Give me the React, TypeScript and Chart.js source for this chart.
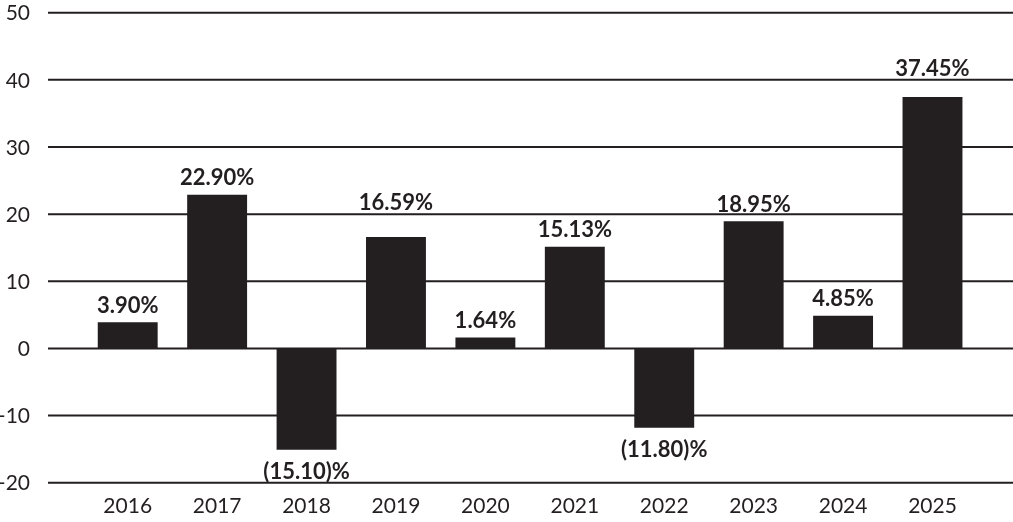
import React, { useEffect, useRef } from "react";
import { Chart, registerables } from "chart.js";

Chart.register(...registerables);

const years: string[] = ["2016", "2017", "2018", "2019", "2020", "2021", "2022", "2023", "2024", "2025"];
const returns: number[] = [3.9, 22.9, -15.1, 16.59, 1.64, 15.13, -11.8, 18.95, 4.85, 37.45];
const yTicks: number[] = [-20, -10, 0, 10, 20, 30, 40, 50];

const INK = "#231f20";
const FONT = "Lato, 'Open Sans', sans-serif";

function formatReturn(v: number): string {
  return v < 0 ? `(${Math.abs(v).toFixed(2)})%` : `${v.toFixed(2)}%`;
}

// Horizontal rules spanning nearly the full width, behind the bars,
// plus the value axis labels at the left edge.
const ruleLines = {
  id: "ruleLines",
  beforeDatasetsDraw(chart: any) {
    const { ctx, scales } = chart;
    const y = scales.y;
    ctx.save();
    ctx.strokeStyle = INK;
    ctx.lineWidth = 2;
    ctx.fillStyle = INK;
    ctx.font = `21px ${FONT}`;
    ctx.textAlign = "right";
    ctx.textBaseline = "middle";
    for (const t of yTicks) {
      const py = y.getPixelForValue(t);
      ctx.beginPath();
      ctx.moveTo(48, py);
      ctx.lineTo(chart.width, py);
      ctx.stroke();
      ctx.fillText(String(t), 30, py + 1);
    }
    ctx.restore();
  },
};

// Value labels above/below each bar, nudged off any rule they would sit on.
const valueLabels = {
  id: "valueLabels",
  afterDatasetsDraw(chart: any) {
    const { ctx, scales } = chart;
    const y = scales.y;
    const rules = yTicks.map((t) => y.getPixelForValue(t));
    const meta = chart.getDatasetMeta(0);
    const cap = 16;
    ctx.save();
    ctx.fillStyle = INK;
    ctx.font = `bold 22px ${FONT}`;
    ctx.textAlign = "center";
    ctx.textBaseline = "alphabetic";
    meta.data.forEach((bar: any, i: number) => {
      const v = returns[i];
      const text = formatReturn(v);
      let baseline: number;
      if (v >= 0) {
        baseline = bar.y - 9.5;
        for (const r of rules) {
          const top = baseline - cap;
          if (r >= top - 2 && r <= baseline + 2) {
            baseline = r - 4;
          }
        }
      } else {
        baseline = bar.y + 29;
      }
      ctx.fillText(text, bar.x, baseline);
    });
    ctx.restore();
  },
};

export default function App() {
  const canvasRef = useRef<HTMLCanvasElement | null>(null);

  useEffect(() => {
    if (!canvasRef.current) return;
    const chart = new Chart(canvasRef.current, {
      type: "bar",
      data: {
        labels: years,
        datasets: [
          {
            data: returns,
            backgroundColor: INK,
            borderWidth: 0,
            barPercentage: 0.67,
            categoryPercentage: 1,
          },
        ],
      },
      options: {
        animation: false,
        responsive: false,
        layout: { padding: { top: 12.7, right: 35.8, left: 0, bottom: 0 } },
        plugins: { legend: { display: false }, tooltip: { enabled: false } },
        scales: {
          x: {
            offset: true,
            grid: { display: false, drawTicks: false },
            border: { display: false },
            ticks: { color: INK, font: { family: FONT, size: 21 }, padding: 11, maxRotation: 0 },
            afterFit: (s: any) => {
              s.height = 39.3;
            },
          },
          y: {
            min: -20,
            max: 50,
            grid: { display: false, drawTicks: false },
            border: { display: false },
            ticks: { display: false, stepSize: 10 },
            afterFit: (s: any) => {
              s.width = 83;
            },
          },
        },
      },
      plugins: [ruleLines, valueLabels],
    });
    return () => chart.destroy();
  }, []);

  return (
    <div style={{ position: "absolute", left: 0, top: 0, width: 1013, height: 522, background: "#fff" }}>
      <canvas ref={canvasRef} width={1013} height={522} />
    </div>
  );
}
